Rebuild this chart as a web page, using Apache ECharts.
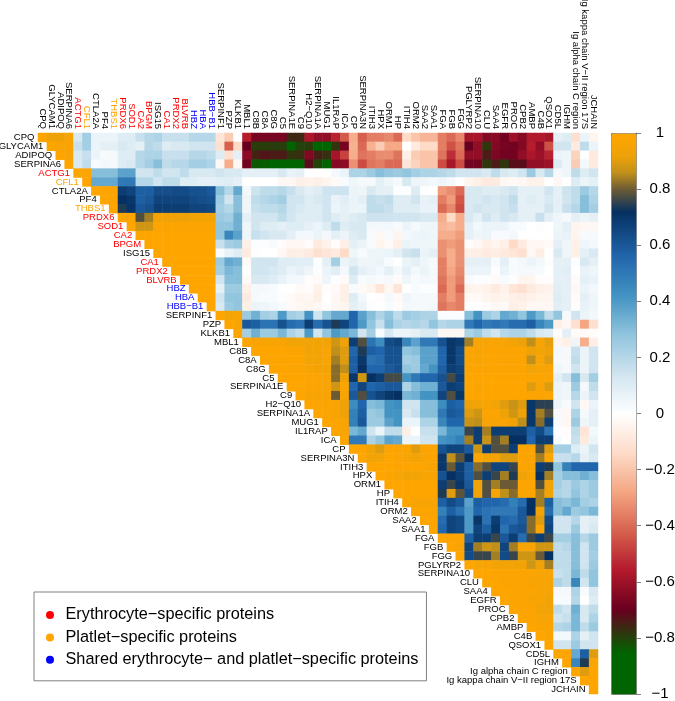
<!DOCTYPE html>
<html>
<head>
<meta charset="utf-8">
<style>html,body{margin:0;padding:0;background:#fff}#c{width:675px;height:701px}</style>
<script src="https://cdn.jsdelivr.net/npm/echarts@6/dist/echarts.min.js"></script>
</head>
<body>
<div id="c"></div>
<script>
const categories = ["CPQ","GLYCAM1","ADIPOQ","SERPINA6","ACTG1","CFL1","CTLA2A","PF4","THBS1","PRDX6","SOD1","CA2","BPGM","ISG15","CA1","PRDX2","BLVRB","HBZ","HBA","HBB−B1","SERPINF1","PZP","KLKB1","MBL1","C8B","C8A","C8G","C5","SERPINA1E","C9","H2−Q10","SERPINA1A","MUG1","IL1RAP","ICA","CP","SERPINA3N","ITIH3","HPX","ORM1","HP","ITIH4","ORM2","SAA2","SAA1","FGA","FGB","FGG","PGLYRP2","SERPINA10","CLU","SAA4","EGFR","PROC","CPB2","AMBP","C4B","QSOX1","CD5L","IGHM","Ig alpha chain C region","Ig kappa chain V−II region 17S","JCHAIN"];
const erythrocyte = ["ACTG1","PRDX6","SOD1","CA2","BPGM","CA1","PRDX2","BLVRB"];
const platelet = ["CFL1","THBS1"];
const shared = ["HBZ","HBA","HBB−B1"];
const legendNames = ["Erythrocyte−specific proteins","Platlet−specific proteins","Shared erythrocyte− and platlet−specific proteins"];

// Correlation x 100, each row starts at its diagonal cell
const row00 = [100,92,92,96,12,24,6,6,6,10,10,16,20,22,16,16,16,20,20,20,-10,-18,0,-55,-67,-67,-67,-67,-76,-76,-57,-62,-62,-54,-43,-26,-42,-36,-36,-34,-40,-14,-20,-24,-24,-36,-40,-34,-58,-58,-65,-64,-68,-60,-64,-56,-56,-58,8,10,-12,6,-4];
const row01 = [100,96,96,16,24,6,8,8,12,10,8,20,18,10,12,12,14,14,14,-12,-42,-14,-70,-79,-79,-79,-79,-85,-80,-79,-85,-85,-78,-67,-25,-40,-25,-18,-27,-27,0,-8,-14,-14,-36,-45,-38,-70,-62,-78,-65,-67,-68,-65,-55,-62,-45,14,14,-8,18,6];
const row02 = [100,96,12,16,6,2,3,10,10,20,22,22,16,16,16,20,20,18,10,-12,8,-63,-75,-73,-74,-74,-78,-77,-65,-75,-77,-58,-48,-26,-38,-36,-33,-33,-38,-6,-18,-20,-20,-38,-52,-40,-62,-62,-74,-66,-68,-68,-62,-57,-60,-54,6,5,-16,0,-8];
const row03 = [100,12,18,2,4,3,10,12,20,24,30,18,20,20,24,24,22,-3,-26,-3,-68,-83,-84,-85,-85,-85,-85,-72,-80,-85,-64,-63,-32,-46,-38,-36,-40,-40,-10,-16,-20,-20,-46,-58,-46,-68,-68,-78,-74,-78,-72,-72,-62,-62,-60,10,5,-18,4,-8];
const row04 = [100,98,30,30,30,38,38,14,14,18,14,14,18,12,12,12,14,12,12,8,8,8,8,12,7,8,0,0,0,3,6,22,22,26,30,27,26,28,24,22,22,20,18,14,14,14,12,18,12,10,14,26,12,20,3,5,18,10,14];
const row05 = [100,36,36,36,50,50,20,20,14,18,18,10,10,8,8,9,10,8,0,0,0,0,-3,-3,-6,-5,-6,-4,-2,2,5,3,3,8,5,3,12,5,5,4,5,3,0,-4,-6,-8,-8,-3,-2,-3,-5,-5,0,-3,0,10,6,8];
const row06 = [100,98,98,68,66,58,58,63,63,64,64,62,62,60,30,20,36,4,15,18,18,20,16,12,8,10,15,15,15,6,5,12,8,8,1,1,10,1,0,-30,-33,-40,12,12,10,10,12,14,8,8,8,14,8,15,18,26,20];
const row07 = [100,98,72,70,58,60,66,66,66,66,64,63,62,26,14,30,5,18,20,22,24,14,14,10,12,14,7,9,6,8,18,16,18,10,10,14,7,8,-36,-30,-44,12,12,14,12,14,18,8,10,8,12,8,14,18,30,22];
const row08 = [100,74,71,60,62,68,68,68,68,66,66,65,24,20,30,5,16,18,18,20,14,12,10,10,14,6,8,6,6,18,18,16,10,10,10,7,7,-40,-34,-46,12,14,12,12,14,16,8,8,8,14,8,16,20,30,24];
const row09 = [100,98,78,84,95,93,93,92,94,95,95,26,24,34,8,14,14,14,18,13,10,10,10,14,10,8,10,12,15,15,15,14,14,14,12,12,-26,-14,-26,12,8,14,10,14,12,8,8,16,8,5,3,8,6,8];
const row10 = [100,88,88,98,98,98,98,98,98,98,28,28,34,5,14,10,10,8,10,10,8,6,10,18,10,12,12,3,3,4,2,6,3,5,5,-24,-22,-26,8,4,6,6,6,2,2,0,1,0,5,8,-4,-3,-3];
const row11 = [100,100,100,100,100,100,100,100,100,28,46,38,5,16,14,12,12,8,4,4,6,4,8,6,10,12,2,-3,2,-4,4,5,6,5,-26,-26,-30,8,5,6,2,2,4,0,0,0,0,6,7,-4,2,3];
const row12 = [100,100,100,100,100,100,100,100,16,24,26,-6,1,1,2,-1,-3,-3,-1,-8,-5,-1,-6,8,6,2,-4,-2,-6,6,5,5,5,-32,-30,-32,-1,-3,-6,-4,-6,-14,-8,-3,-3,-2,8,5,-6,5,4];
const row13 = [100,100,100,100,100,100,100,2,7,10,-8,1,0,0,-3,-7,-6,-8,-12,-10,-8,-14,5,2,5,5,6,8,14,16,6,8,-32,-26,-32,-6,-6,-8,-7,-8,-10,-12,-3,-7,0,12,5,-6,8,12];
const row14 = [100,100,100,100,100,100,26,36,34,-2,14,14,14,10,10,9,9,1,8,24,6,8,5,5,6,2,0,6,8,5,3,-36,-26,-32,8,8,8,2,8,2,4,6,4,1,8,8,1,12,8];
const row15 = [100,100,100,100,100,24,32,30,0,14,14,12,10,6,8,5,1,6,9,4,14,8,6,4,8,4,8,4,6,3,-36,-28,-34,6,6,6,1,6,2,3,3,2,0,8,9,0,7,5];
const row16 = [100,100,100,100,14,30,30,-2,12,12,10,7,4,4,-1,-2,5,1,-2,10,2,3,2,3,-2,5,2,4,3,-38,-30,-36,2,1,1,-2,2,1,-4,-4,-1,-1,8,8,-2,8,7];
const row17 = [100,100,100,8,26,26,-6,3,3,2,0,0,-2,-1,-5,-1,-2,-6,2,-2,-4,-10,-3,-10,0,2,1,1,-40,-30,-40,-5,-4,-5,-8,-5,-10,-12,-8,-6,-5,9,8,-3,6,4];
const row18 = [100,100,14,28,28,-8,3,2,2,1,-2,-4,-3,-6,0,-3,-6,10,4,0,-1,3,-2,5,3,3,3,-36,-30,-36,-2,-2,-4,-5,-4,-6,-7,-5,-4,-4,10,8,-2,8,5];
const row19 = [100,12,26,28,-6,6,5,4,2,-2,-3,-4,-3,-1,-3,-4,8,6,1,0,2,-1,4,3,3,4,-38,-34,-36,0,0,-1,-3,-2,-6,-5,-3,-3,-3,9,8,-1,7,5];
const row20 = [100,94,96,26,34,24,22,40,24,22,42,14,28,36,36,56,38,30,22,28,18,26,24,22,22,1,1,1,30,42,26,22,36,34,28,40,32,18,28,3,14,6,4];
const row21 = [100,96,60,58,52,52,62,54,52,68,54,62,74,66,56,40,28,16,30,22,20,22,20,28,20,22,22,50,56,50,52,50,54,54,58,46,40,-6,-3,-12,-28,-12];
const row22 = [100,24,34,26,26,32,22,18,40,14,28,40,36,32,14,24,2,12,6,6,8,12,12,-3,-3,-3,22,26,18,14,20,22,22,18,12,10,-1,8,-2,-2,-1];
const row23 = [100,96,96,96,96,94,94,94,94,94,88,92,68,78,52,44,64,66,46,38,50,50,62,70,68,84,96,96,96,96,94,92,86,96,91,-4,-6,5,-26,-6];
const row24 = [100,100,100,100,98,98,94,95,96,86,90,56,74,58,56,62,62,28,30,38,38,56,70,64,98,96,98,98,98,98,98,92,94,92,4,3,16,6,14];
const row25 = [100,100,98,100,100,94,95,96,84,90,58,70,52,54,62,62,24,26,38,38,56,70,64,98,96,98,98,98,98,98,86,96,90,3,3,18,6,14];
const row26 = [100,100,98,98,96,95,95,82,86,58,72,56,56,60,62,28,26,36,42,58,68,66,98,98,98,98,98,98,98,94,96,96,5,3,14,6,14];
const row27 = [100,100,100,98,98,96,82,92,70,88,72,68,77,77,42,50,56,56,62,77,68,100,100,100,100,100,100,100,98,98,98,8,14,30,12,24];
const row28 = [100,100,98,98,96,88,98,56,66,56,58,60,60,22,30,34,34,60,68,66,100,97,100,100,100,100,100,90,96,90,6,5,26,4,18];
const row29 = [100,96,96,96,80,96,60,78,62,66,70,72,32,34,42,42,66,78,70,100,100,100,100,100,100,100,98,98,98,6,5,20,6,14];
const row30 = [100,98,98,96,92,44,56,30,32,42,44,14,14,30,30,44,58,56,92,94,96,94,90,87,90,70,75,75,5,2,14,-3,6];
const row31 = [100,98,96,92,48,58,26,28,42,42,12,16,30,30,50,60,58,90,88,98,98,92,88,92,70,84,78,2,-3,22,3,8];
const row32 = [100,98,96,48,60,26,26,38,42,6,6,22,22,46,56,56,87,86,96,96,96,93,86,70,82,68,2,-3,26,5,8];
const row33 = [100,96,32,36,14,6,18,18,-6,0,16,16,32,42,42,76,68,84,68,68,68,68,58,64,52,1,-1,18,-10,4];
const row34 = [100,50,50,22,28,38,36,6,6,14,14,42,44,48,84,68,87,78,84,72,72,56,68,68,2,0,16,-8,6];
const row35 = [100,100,94,90,98,98,98,90,98,98,62,66,66,60,88,68,78,78,68,98,98,78,90,24,24,10,6,14];
const row36 = [100,94,94,100,98,96,94,96,98,70,86,79,72,100,95,95,90,90,98,97,84,98,16,16,20,8,12];
const row37 = [100,100,100,98,100,100,98,96,70,80,68,58,82,78,66,66,76,98,96,68,74,28,48,56,56,56];
const row38 = [100,98,96,94,94,96,96,62,72,68,58,78,68,76,84,74,92,96,72,84,24,30,30,34,30];
const row39 = [100,100,100,100,100,100,68,76,70,60,94,78,84,80,80,98,98,78,94,24,20,26,22,26];
const row40 = [100,100,100,100,100,74,90,79,64,94,78,96,86,82,98,98,84,94,22,20,28,22,26];
const row41 = [100,96,96,96,58,64,60,38,58,56,56,54,48,54,72,84,58,30,28,32,24,22];
const row42 = [100,98,98,48,58,52,40,56,52,50,50,50,60,72,94,54,30,36,26,28,32];
const row43 = [100,100,54,66,64,40,70,52,68,56,54,60,82,90,64,14,14,20,8,10];
const row44 = [100,56,66,64,40,66,58,70,52,60,62,82,98,66,14,14,26,8,12];
const row45 = [100,98,98,58,68,68,76,60,68,54,76,68,76,24,24,30,20,26];
const row46 = [100,96,66,84,88,86,66,84,96,96,88,88,18,20,30,14,26];
const row47 = [100,64,76,76,84,64,76,88,88,80,72,18,18,30,14,24];
const row48 = [100,96,96,94,94,94,94,88,92,84,18,18,30,14,26];
const row49 = [100,100,98,98,98,98,98,96,96,16,18,32,18,28];
const row50 = [100,100,98,98,98,96,96,96,22,18,46,14,28];
const row51 = [100,100,98,98,98,96,96,3,3,22,2,12];
const row52 = [100,98,98,96,96,94,2,2,20,0,10];
const row53 = [100,98,98,94,94,18,14,34,12,18];
const row54 = [100,98,96,96,14,16,32,12,22];
const row55 = [100,98,98,20,22,32,18,26];
const row56 = [100,98,4,4,22,8,14];
const row57 = [100,14,14,26,14,14];
const row58 = [100,98,36,58,90];
const row59 = [100,46,74,98];
const row60 = [100,90,100];
const row61 = [100,100];
const row62 = [100];

const rows = [row00,row01,row02,row03,row04,row05,row06,row07,row08,row09,row10,row11,row12,row13,row14,row15,row16,row17,row18,row19,row20,row21,row22,row23,row24,row25,row26,row27,row28,row29,row30,row31,row32,row33,row34,row35,row36,row37,row38,row39,row40,row41,row42,row43,row44,row45,row46,row47,row48,row49,row50,row51,row52,row53,row54,row55,row56,row57,row58,row59,row60,row61,row62];

const cells = [];
rows.forEach((a,r)=>a.forEach((v,i)=>cells.push([r+i,r,v/100])));

const anchors = [[-1,'#006400'],[-0.85,'#006400'],[-0.7,'#67001f'],[-0.56,'#b2182b'],[-0.42,'#d6604d'],[-0.28,'#f4a582'],[-0.14,'#fddbc7'],[0,'#ffffff'],[0.14,'#d1e5f0'],[0.28,'#92c5de'],[0.42,'#4393c3'],[0.56,'#2166ac'],[0.72,'#053061'],[0.8,'#6a5a35'],[0.86,'#c0901a'],[0.92,'#eea208'],[1,'#ffa500']];
function hex(c){return [1,3,5].map(i=>parseInt(c.substr(i,2),16));}
function ramp(n){
  const out=[];
  for(let k=0;k<n;k++){
    const t=-1+2*k/(n-1);
    let j=0; while(j<anchors.length-2 && t>anchors[j+1][0]) j++;
    const a=anchors[j],b=anchors[j+1],f=(t-a[0])/(b[0]-a[0]);
    const A=hex(a[1]),B=hex(b[1]);
    out.push('rgb('+A.map((x,i)=>Math.round(x+(B[i]-x)*f)).join(',')+')');
  }
  return out;
}
function labelColor(n){
  if(erythrocyte.includes(n)) return '#ff0000';
  if(platelet.includes(n)) return '#ffa500';
  if(shared.includes(n)) return '#0000ff';
  return '#000000';
}
const diag = categories.map((n,i)=>({value:[i,i],name:n,label:{color:labelColor(n)}}));
const FONT='"Liberation Sans",Arial,sans-serif';
const chart = echarts.init(document.getElementById('c'),null,{renderer:'canvas'});
chart.setOption({
  animation:false,
  backgroundColor:'#fff',
  grid:[
    {left:38,top:133,width:560,height:561,outerBoundsMode:'none',containLabel:false},
    {left:611,top:133,width:25,height:561,outerBoundsMode:'none',containLabel:false}
  ],
  xAxis:[
    {type:'category',data:categories,position:'top',gridIndex:0,
     axisLine:{show:false},axisTick:{show:false},splitLine:{show:false},
     axisLabel:{interval:0,rotate:90,margin:4,fontSize:9.5,fontFamily:FONT,color:v=>labelColor(v)}},
    {type:'value',gridIndex:1,min:0,max:1,show:false}
  ],
  yAxis:[
    {type:'category',data:categories,inverse:true,gridIndex:0,show:false},
    {type:'value',gridIndex:1,min:-1,max:1,interval:0.2,position:'right',
     axisLine:{show:true,onZero:false,lineStyle:{color:'#808080',width:1}},splitLine:{show:false},
     axisTick:{show:true,inside:false,length:5,lineStyle:{color:'#808080',width:1}},
     axisLabel:{margin:24,align:'center',fontSize:15,fontFamily:FONT,color:'#000',
       formatter:v=>String(Math.round(v*10)/10).replace('-','−')}}
  ],
  visualMap:{
    type:'continuous',seriesIndex:0,dimension:2,min:-1,max:1,calculable:false,hoverLink:false,
    left:611,top:133,itemWidth:25,itemHeight:561,padding:0,text:null,
    borderColor:'#808080',borderWidth:1,
    inRange:{color:ramp(201)}
  },
  legend:{
    left:34,top:592,orient:'vertical',padding:[15,8,13,12],itemGap:6.4,
    itemWidth:21,itemHeight:8,icon:'circle',
    borderColor:'#808080',borderWidth:1,
    textStyle:{fontSize:16.3,fontFamily:FONT,color:'#000',lineHeight:16},
    data:legendNames
  },
  series:[
    {type:'heatmap',xAxisIndex:0,yAxisIndex:0,data:cells,progressive:0,itemStyle:{borderWidth:0},emphasis:{disabled:true}},
    {type:'scatter',xAxisIndex:0,yAxisIndex:0,data:diag,symbolSize:0,silent:true,z:5,itemStyle:{opacity:1},
     label:{show:true,position:'left',distance:8,fontSize:9.5,fontFamily:FONT,formatter:p=>p.name},
     labelLayout:{hideOverlap:false}},
    {type:'scatter',name:legendNames[0],data:[],itemStyle:{color:'#ff0000',opacity:1}},
    {type:'scatter',name:legendNames[1],data:[],itemStyle:{color:'#ffa500',opacity:1}},
    {type:'scatter',name:legendNames[2],data:[],itemStyle:{color:'#0000ff',opacity:1}}
  ]
});
</script>
</body>
</html>
